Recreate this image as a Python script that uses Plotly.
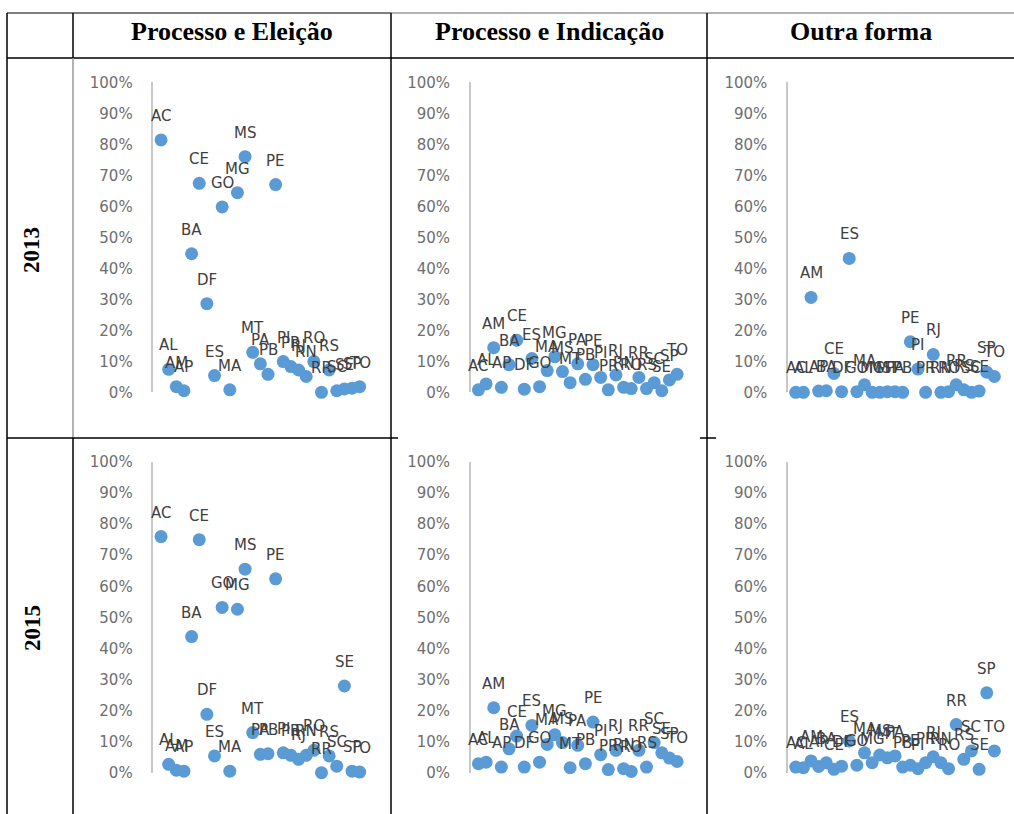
import plotly.graph_objects as go

W, H = 1014, 814

states = ["AC", "AL", "AM", "AP", "BA", "CE", "DF", "ES", "GO", "MA", "MG", "MS", "MT", "PA",
          "PB", "PE", "PI", "PR", "RJ", "RN", "RO", "RR", "RS", "SC", "SE", "SP", "TO"]

column_titles = ["Processo e Eleição", "Processo e Indicação", "Outra forma"]
row_titles = ["2013", "2015"]

# values in percent
eleicao_2013 = [81.4, 7.4, 1.8, 0.5, 44.7, 67.4, 28.6, 5.4, 59.8, 0.8, 64.4, 76.0, 12.9, 9.2,
                5.8, 67.0, 9.9, 8.3, 7.2, 5.1, 9.9, 0.0, 7.2, 0.5, 1.1, 1.3, 1.8]
indicacao_2013 = [0.8, 2.7, 14.4, 1.6, 8.9, 16.8, 1.0, 10.9, 1.8, 7.0, 11.5, 6.7, 3.1, 9.2,
                  4.2, 8.9, 4.8, 0.8, 5.6, 1.6, 1.2, 4.8, 1.2, 3.1, 0.5, 4.0, 5.8]
outra_2013 = [0.0, 0.0, 30.6, 0.4, 0.5, 6.1, 0.2, 43.2, 0.2, 2.4, 0.0, 0.0, 0.2, 0.2,
              0.0, 16.3, 7.5, 0.0, 12.2, 0.0, 0.2, 2.4, 0.8, 0.0, 0.4, 6.5, 5.1]
eleicao_2015 = [76.0, 2.7, 0.8, 0.5, 43.8, 75.0, 18.8, 5.4, 53.2, 0.5, 52.6, 65.5, 12.9, 5.9,
                6.1, 62.4, 6.4, 5.6, 4.3, 5.6, 7.2, 0.0, 5.4, 2.1, 27.9, 0.5, 0.2]
indicacao_2015 = [2.9, 3.4, 20.9, 1.8, 7.7, 11.8, 1.8, 15.2, 3.4, 9.1, 12.2, 9.7, 1.6, 8.8,
                  2.9, 16.3, 5.8, 1.0, 7.2, 1.3, 0.4, 7.2, 1.8, 9.7, 6.4, 4.7, 3.6]
outra_2015 = [1.8, 1.6, 3.8, 2.0, 3.2, 1.1, 2.1, 10.2, 2.4, 6.4, 3.2, 5.7, 4.8, 5.4,
              1.8, 2.4, 1.3, 3.2, 5.1, 3.2, 1.3, 15.5, 4.3, 7.0, 1.1, 25.7, 7.0]

panels = [
    [eleicao_2013, indicacao_2013, outra_2013],
    [eleicao_2015, indicacao_2015, outra_2015],
]

# layout geometry (pixels)
col_x0 = [153.4, 470.8, 788.1]      # pixel x of x=0
col_step = 7.64                     # pixels per category
x_max = 28
row_y = [(82.3, 392.3), (462.0, 772.7)]  # (100% pixel, 0% pixel)


def px(x):
    return x / W


def py(y):
    return 1 - y / H


fig = go.Figure()
layout = dict(width=W, height=H, autosize=False, template="none",
              margin=dict(l=0, r=0, t=0, b=0, pad=0, autoexpand=False),
              paper_bgcolor="white", plot_bgcolor="rgba(0,0,0,0)", showlegend=False)
annotations = []
shapes = []

xs = list(range(1, len(states) + 1))
k = 0
for r in range(2):
    for c in range(3):
        k += 1
        sfx = "" if k == 1 else str(k)
        vals = [v / 100 for v in panels[r][c]]
        fig.add_trace(go.Scatter(
            x=xs, y=vals, mode="markers",
            marker=dict(size=13, color="#5B9BD5", line=dict(width=0)),
            xaxis="x" + sfx, yaxis="y" + sfx, cliponaxis=False, hoverinfo="skip"))
        x0 = col_x0[c]
        x1 = x0 + x_max * col_step
        layout["xaxis" + sfx] = dict(domain=[px(x0), px(x1)], range=[0, x_max], visible=False,
                                     anchor="y" + sfx, automargin=False)
        layout["yaxis" + sfx] = dict(
            domain=[py(row_y[r][1]), py(row_y[r][0])], range=[0, 1], anchor="x" + sfx,
            tickvals=[i / 10 for i in range(11)], tickformat=".0%", automargin=False,
            showgrid=False, zeroline=False, showline=True, linecolor="#C8C8C8", linewidth=1.5,
            ticks="", ticklabelstandoff=16,
            tickfont=dict(family="DejaVu Sans", size=15, color="#6E6E6E"))
        for st, xv, yv in zip(states, xs, vals):
            annotations.append(dict(
                x=xv, y=yv, xref="x" + sfx, yref="y" + sfx, text=st, showarrow=False,
                yshift=24, xanchor="center", yanchor="middle",
                font=dict(family="DejaVu Sans", size=15, color="#404040")))

# header titles
col_edges = [73, 391, 707, 1014]
for i, t in enumerate(column_titles):
    annotations.append(dict(
        x=px((col_edges[i] + col_edges[i + 1]) / 2), y=py(32), xref="paper", yref="paper",
        text="<b>" + t + "</b>", showarrow=False, xanchor="center", yanchor="middle",
        font=dict(family="Liberation Serif", size=26, color="black")))
for y, t in zip([250, 628], row_titles):
    annotations.append(dict(
        x=px(32), y=py(y), xref="paper", yref="paper", text="<b>" + t + "</b>",
        showarrow=False, textangle=-90, xanchor="center", yanchor="middle",
        font=dict(family="Liberation Serif", size=23, color="black")))


def line(x0, y0, x1, y1, color="black", width=1.5):
    shapes.append(dict(type="line", xref="paper", yref="paper",
                       x0=px(x0), y0=py(y0), x1=px(x1), y1=py(y1),
                       line=dict(color=color, width=width), layer="below"))


line(7, 13, 391, 13, "#555555")
line(391, 13, 1014, 13, "#9A9A9A")
line(7, 58, 1014, 58, "black")
line(7, 13, 7, 814, "black")
line(73, 13, 73, 58, "black")
line(73, 58, 73, 438, "#9A9A9A")
line(73, 438, 73, 814, "black")
line(391, 13, 391, 814, "black")
line(707, 13, 707, 814, "black")
line(7, 438, 398, 438, "black")
line(700, 438, 716, 438, "black")

layout["annotations"] = annotations
layout["shapes"] = shapes
fig.update_layout(**layout)

pin_script = (
    "document.documentElement.style.margin='0';"
    "document.documentElement.style.overflow='hidden';"
    "document.body.style.margin='0';"
    "document.body.style.overflow='hidden';"
    "var d=document.getElementById('{plot_id}');"
    "d.style.position='fixed';d.style.top='0px';d.style.left='0px';"
)
fig.write_html("out.html", config={"displayModeBar": False}, post_script=pin_script)
